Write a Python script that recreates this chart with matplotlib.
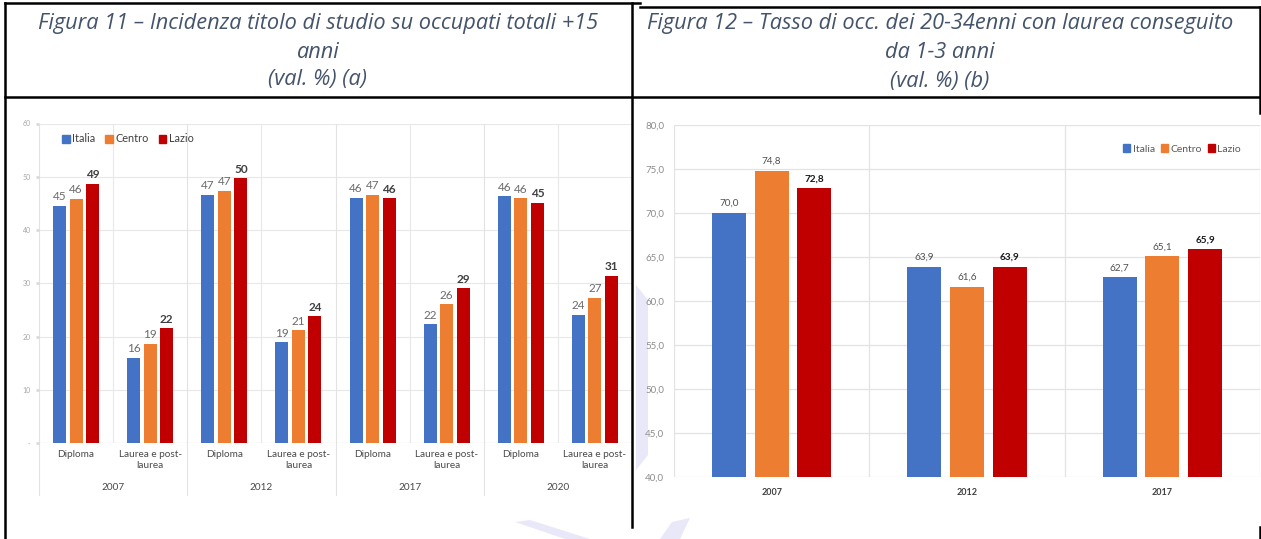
import matplotlib
matplotlib.use("Agg")
import matplotlib.pyplot as plt
from matplotlib.lines import Line2D
from matplotlib.patches import Patch, Polygon
import numpy as np

# ---------------- data ----------------
series = ["Italia", "Centro", "Lazio"]
colors = ["#4472C4", "#ED7D31", "#C00000"]

years11 = ["2007", "2012", "2017", "2020"]
titoli11 = ["Diploma", "Laurea e post-\nlaurea"]
italia11 = [44.6, 16.0, 46.6, 18.9, 46.1, 22.3, 46.3, 24.1]
centro11 = [45.9, 18.6, 47.4, 21.2, 46.6, 26.1, 46.0, 27.3]
lazio11 = [48.7, 21.6, 49.7, 23.8, 46.0, 29.1, 45.1, 31.4]
yticks11 = [0, 10, 20, 30, 40, 50, 60]
yticklabels11 = ["-", "10", "20", "30", "40", "50", "60"]

years12 = ["2007", "2012", "2017"]
italia12 = [70.0, 63.9, 62.7]
centro12 = [74.8, 61.6, 65.1]
lazio12 = [72.8, 63.9, 65.9]
yticks12 = [40, 45, 50, 55, 60, 65, 70, 75, 80]

title11 = ["Figura 11 \u2013 Incidenza titolo di studio su occupati totali +15",
           "anni", "(val. %) (a)"]
title12 = ["Figura 12 \u2013 Tasso di occ. dei 20-34enni con laurea conseguito",
           "da 1-3 anni", "(val. %) (b)"]

# ---------------- figure ----------------
W, H = 1261, 539
fig = plt.figure(figsize=(W / 100, H / 100), dpi=100)
fig.patch.set_facecolor("white")
plt.rcParams["font.family"] = ["Lato", "DejaVu Sans"]


def fx(x):
    return x / W


def fy(y):
    return 1 - y / H


def hline(x0, x1, y, **kw):
    fig.add_artist(Line2D([fx(x0), fx(x1)], [fy(y), fy(y)],
                          transform=fig.transFigure, **kw))


def vline(x, y0, y1, **kw):
    fig.add_artist(Line2D([fx(x), fx(x)], [fy(y0), fy(y1)],
                          transform=fig.transFigure, **kw))


# faint watermark traces
wm = dict(color="#cdcdf3", alpha=0.45, zorder=-5)
fig.add_artist(Polygon([[fx(636), fy(285)], [fx(648), fy(300)], [fx(648), fy(455)],
                        [fx(636), fy(470)]], closed=True, transform=fig.transFigure,
                       lw=0, **wm))
fig.add_artist(Polygon([[fx(515), fy(522)], [fx(530), fy(520)], [fx(590), fy(539)],
                        [fx(565), fy(539)]], closed=True, transform=fig.transFigure,
                       lw=0, **wm))
fig.add_artist(Polygon([[fx(660), fy(539)], [fx(672), fy(522)], [fx(690), fy(518)],
                        [fx(680), fy(539)]], closed=True, transform=fig.transFigure,
                       lw=0, **wm))

# ---------------- table borders ----------------
bk = dict(color="black", lw=1.8, solid_capstyle="projecting")
hline(5, 640, 3, **bk)
hline(640, 1260, 7, **bk)
hline(5, 1260, 97, **bk)
vline(5, 3, 539, **bk)
vline(632, 3, 527, **bk)
vline(1260, 7, 113, **bk)
vline(1260, 527, 539, **bk)

# ---------------- titles ----------------
tcol = "#44546A"
tkw = dict(ha="center", va="center", color=tcol, style="italic",
           family=["Open Sans", "DejaVu Sans"], fontsize=14)
t0 = fig.text(fx(318), fy(23), title11[0], **tkw)
r = fig.canvas.get_renderer()
w0 = t0.get_window_extent(renderer=r).width
fs = 14 * 561 / w0
t0.set_fontsize(fs)
tkw["fontsize"] = fs
fig.text(fx(318), fy(52), title11[1], **tkw)
fig.text(fx(318), fy(80), title11[2], **tkw)
fig.text(fx(940), fy(24), title12[0], **tkw)
fig.text(fx(940), fy(53), title12[1], **tkw)
fig.text(fx(940), fy(81), title12[2], **tkw)

# ---------------- chart 11 ----------------
x0, x1, yb, yt = 39, 632, 443, 123.5
ax1 = fig.add_axes([fx(x0), fy(yb), (x1 - x0) / W, (yb - yt) / H])
ax1.set_xlim(-0.5, 7.5)
ax1.set_ylim(0, 60)
for s in ax1.spines.values():
    s.set_visible(False)
ax1.set_facecolor("white")
for v in yticks11[1:]:
    ax1.axhline(v, color="#e8e8e8", lw=0.8, zorder=0)
ax1.axhline(0, color="#d9d9d9", lw=0.9, zorder=0)
for xv in [0.5, 2.5, 4.5, 6.5]:
    ax1.axvline(xv, color="#e8e8e8", lw=0.8, zorder=0)
ybot = -(495 - yb) / (yb - yt)
for xv in [-0.5, 1.5, 3.5, 5.5, 7.5]:
    ax1.plot([xv, xv], [1, ybot], color="#e3e3e3", lw=0.8, clip_on=False,
             transform=ax1.get_xaxis_transform(), zorder=0)

xs = np.arange(8)
bw, off = 0.175, 0.223
for i, (vals, c) in enumerate(zip([italia11, centro11, lazio11], colors)):
    pos = xs + (i - 1) * off
    ax1.bar(pos, vals, width=bw, color=c, zorder=2, label=series[i])
    for p, v in zip(pos, vals):
        ax1.annotate(f"{v:.0f}", (p, v), xytext=(0, 2.5), textcoords="offset points",
                     ha="center", va="bottom", fontsize=8.5,
                     color="#404040" if i == 2 else "#6b6b6b",
                     fontweight="bold" if i == 2 else "normal")

ax1.set_xticks(xs)
ax1.set_xticklabels([titoli11[k % 2] for k in range(8)], fontsize=7.2,
                    color="#4a4a4a", linespacing=1.35)
ax1.tick_params(axis="x", length=0, pad=5)
ax1.set_yticks(yticks11)
ax1.set_yticklabels(yticklabels11, fontsize=5, color="#a6a6a6")
ax1.tick_params(axis="y", length=2, width=2, color="#dadada", pad=4)
for k, yr in enumerate(years11):
    ax1.text(2 * k + 0.5, -(487 - yb) / (yb - yt), yr, transform=ax1.get_xaxis_transform(),
             ha="center", va="center", fontsize=7.2, color="#4a4a4a")

handles = [Patch(color=c, label=s) for c, s in zip(colors, series)]
ax1.legend(handles=handles, loc="center", bbox_to_anchor=((128 - x0) / (x1 - x0), (yb - 139) / (yb - yt)),
           ncol=3, frameon=False, fontsize=7.8, handlelength=0.7, handleheight=0.7,
           handletextpad=0.25, columnspacing=0.9, labelcolor="#404040", borderaxespad=0)

# ---------------- chart 12 ----------------
X0, X1, YB, YT = 674, 1260, 477, 125
ax2 = fig.add_axes([fx(X0), fy(YB), (X1 - X0) / W, (YB - YT) / H])
ax2.set_xlim(-0.5, 2.5)
ax2.set_ylim(40, 80)
for s in ax2.spines.values():
    s.set_visible(False)
for v in yticks12:
    ax2.axhline(v, color="#e3e3e3", lw=0.9, zorder=0)
for xv in [-0.5, 0.5, 1.5, 2.5]:
    ax2.axvline(xv, color="#e3e3e3", lw=0.9, zorder=0)

xs2 = np.arange(3)
bw2, off2 = 0.174, 0.219
for i, (vals, c) in enumerate(zip([italia12, centro12, lazio12], colors)):
    pos = xs2 + (i - 1) * off2
    ax2.bar(pos, [v - 40 for v in vals], bottom=40, width=bw2, color=c, zorder=2)
    for p, v in zip(pos, vals):
        ax2.annotate(f"{v:.1f}".replace(".", ","), (p, v), xytext=(0, 3.5),
                     textcoords="offset points", ha="center", va="bottom", fontsize=7.2,
                     color="#1a1a1a" if i == 2 else "#505050",
                     fontweight="bold" if i == 2 else "normal")

ax2.set_xticks(xs2)
ax2.set_xticklabels(years12, fontsize=6.5, color="#404040", fontweight="bold")
ax2.tick_params(axis="x", length=0, pad=8)
ax2.set_yticks(yticks12)
ax2.set_yticklabels([f"{v:.1f}".replace(".", ",") for v in yticks12], fontsize=7,
                    color="#8c8c8c")
ax2.tick_params(axis="y", length=0, pad=7)
ax2.legend(handles=handles, loc="center", bbox_to_anchor=((1182 - X0) / (X1 - X0), (YB - 149) / (YB - YT)),
           ncol=3, frameon=False, fontsize=7.5, handlelength=0.7, handleheight=0.7,
           handletextpad=0.2, columnspacing=0.6, labelcolor="#595959", borderaxespad=0)

fig.savefig("out.png", dpi=100, facecolor="white")
